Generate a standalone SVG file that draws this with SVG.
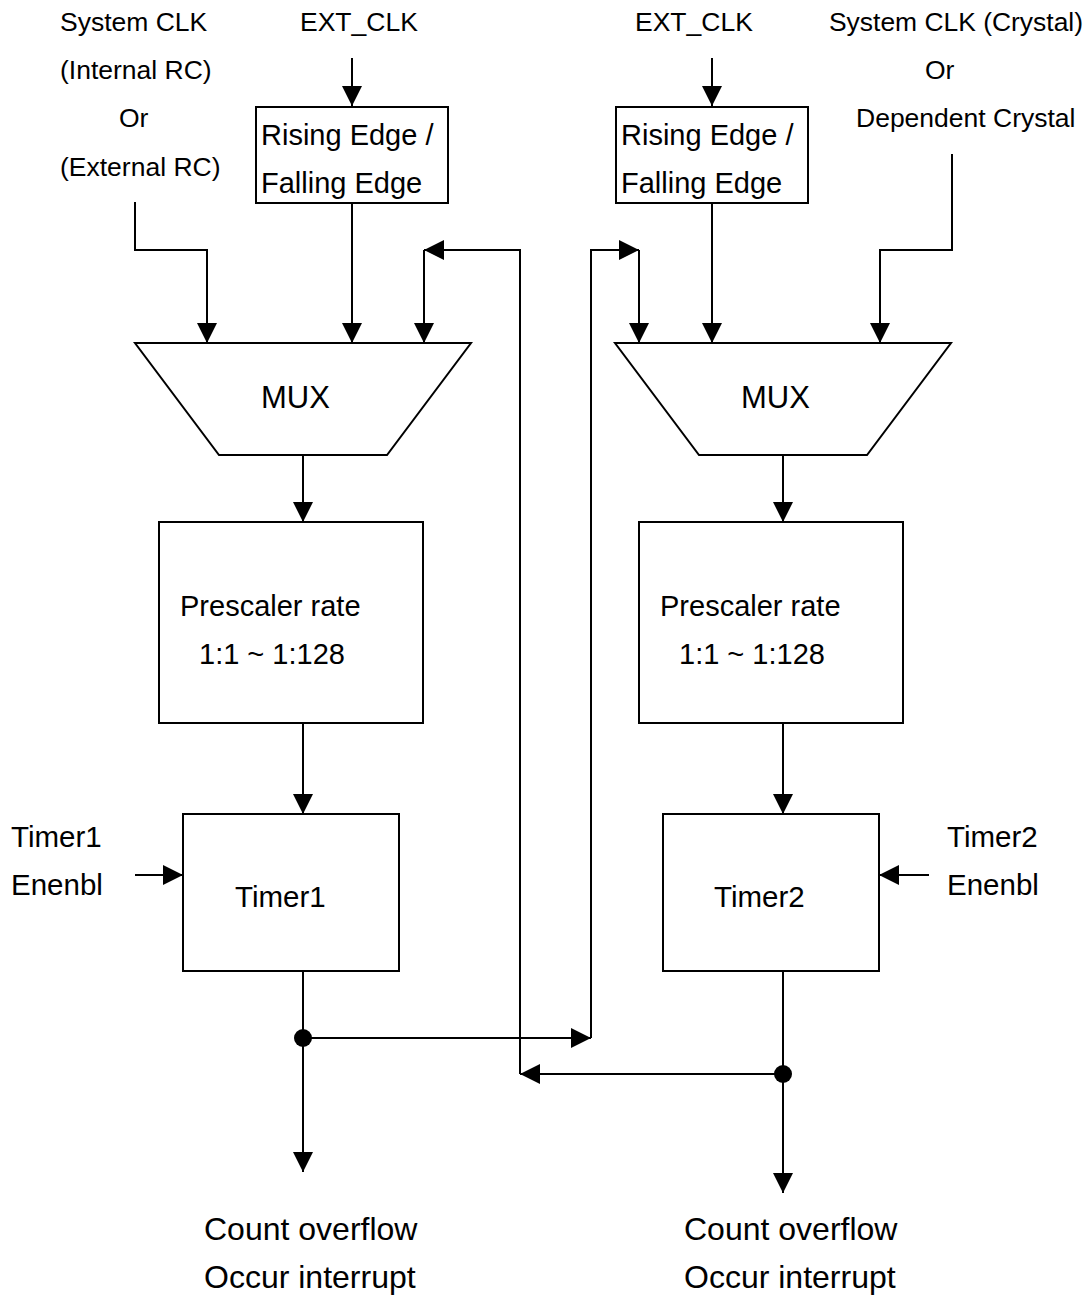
<svg xmlns="http://www.w3.org/2000/svg" width="1090" height="1295" viewBox="0 0 1090 1295">
<style>
text{font-family:"Liberation Sans",Arial,sans-serif;fill:#000}
.lbl{font-size:26.5px}
.box{font-size:29px}
.mux{font-size:31px}
.tm{font-size:29.5px}
.out{font-size:32px}
.shape{fill:#fff;stroke:#000;stroke-width:2}
.wire{fill:none;stroke:#000;stroke-width:2}
.arr{marker-end:url(#ah)}
</style>
<defs>
<marker id="ah" markerUnits="userSpaceOnUse" markerWidth="20" markerHeight="20" refX="20" refY="10" orient="auto">
<path d="M0,0 L20,10 L0,20 z" fill="#000"/>
</marker>
</defs>
<rect width="1090" height="1295" fill="#fff"/>

<g id="connectors">
<path class="wire arr" d="M352,58 V106"/>
<path class="wire arr" d="M352,203 V343"/>
<path class="wire arr" d="M135,202 V250 H207 V343"/>
<path class="wire arr" d="M783,1074 H520"/>
<path class="wire arr" d="M520,1074 V250 H424"/>
<path class="wire arr" d="M424,250 V343"/>
<path class="wire arr" d="M303,455 V522"/>
<path class="wire arr" d="M303,723 V814"/>
<path class="wire arr" d="M135,875 H183"/>
<path class="wire arr" d="M303,971 V1172"/>
<path class="wire arr" d="M303,1038 H591"/>
<path class="wire arr" d="M591,1038 V250 H639"/>
<path class="wire arr" d="M639,250 V343"/>
<path class="wire arr" d="M712,58 V106"/>
<path class="wire arr" d="M712,203 V343"/>
<path class="wire arr" d="M952,154 V250 H880 V343"/>
<path class="wire arr" d="M783,455 V522"/>
<path class="wire arr" d="M783,723 V814"/>
<path class="wire arr" d="M929,875 H879"/>
<path class="wire arr" d="M783,971 V1193"/>
<circle cx="303" cy="1038" r="9" fill="#000"/>
<circle cx="783" cy="1074" r="9" fill="#000"/>
</g>

<g id="sysclk-left">
<text class="lbl" x="60" y="31">System CLK</text>
<text class="lbl" x="60" y="79">(Internal RC)</text>
<text class="lbl" x="119" y="127">Or</text>
<text class="lbl" x="60" y="176">(External RC)</text>
</g>
<g id="extclk-left"><text class="lbl" x="300" y="31">EXT_CLK</text></g>
<g id="edge-left">
<rect class="shape" x="256" y="107" width="192" height="96"/>
<text class="box" x="261" y="145">Rising Edge /</text>
<text class="box" x="261" y="193">Falling Edge</text>
</g>
<g id="mux-left">
<path class="shape" d="M135,343 H471 L387,455 H219 Z"/>
<text class="mux" x="261" y="408">MUX</text>
</g>
<g id="prescaler-left">
<rect class="shape" x="159" y="522" width="264" height="201"/>
<text class="box" x="180" y="616">Prescaler rate</text>
<text class="box" x="199" y="664">1:1 ~ 1:128</text>
</g>
<g id="timer1">
<rect class="shape" x="183" y="814" width="216" height="157"/>
<text class="tm" x="235" y="907">Timer1</text>
</g>
<g id="timer1-enable">
<text class="tm" x="11" y="847">Timer1</text>
<text class="tm" x="11" y="895">Enenbl</text>
</g>
<g id="out-left">
<text class="out" x="204" y="1240">Count overflow</text>
<text class="out" x="204" y="1288">Occur interrupt</text>
</g>

<g id="extclk-right"><text class="lbl" x="635" y="31">EXT_CLK</text></g>
<g id="sysclk-right">
<text class="lbl" x="829" y="31" textLength="254" lengthAdjust="spacingAndGlyphs">System CLK (Crystal)</text>
<text class="lbl" x="925" y="79">Or</text>
<text class="lbl" x="856" y="127">Dependent Crystal</text>
</g>
<g id="edge-right">
<rect class="shape" x="616" y="107" width="192" height="96"/>
<text class="box" x="621" y="145">Rising Edge /</text>
<text class="box" x="621" y="193">Falling Edge</text>
</g>
<g id="mux-right">
<path class="shape" d="M615,343 H951 L867,455 H699 Z"/>
<text class="mux" x="741" y="408">MUX</text>
</g>
<g id="prescaler-right">
<rect class="shape" x="639" y="522" width="264" height="201"/>
<text class="box" x="660" y="616">Prescaler rate</text>
<text class="box" x="679" y="664">1:1 ~ 1:128</text>
</g>
<g id="timer2">
<rect class="shape" x="663" y="814" width="216" height="157"/>
<text class="tm" x="714" y="907">Timer2</text>
</g>
<g id="timer2-enable">
<text class="tm" x="947" y="847">Timer2</text>
<text class="tm" x="947" y="895">Enenbl</text>
</g>
<g id="out-right">
<text class="out" x="684" y="1240">Count overflow</text>
<text class="out" x="684" y="1288">Occur interrupt</text>
</g>
</svg>
